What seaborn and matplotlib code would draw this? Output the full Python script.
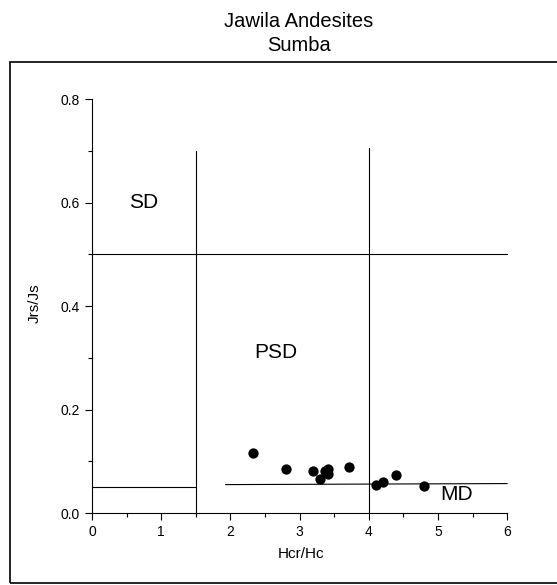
import matplotlib
matplotlib.use("Agg")
import matplotlib.pyplot as plt
import seaborn as sns
import pandas as pd
from matplotlib.patches import Rectangle
from matplotlib.ticker import MultipleLocator

# ---------------------------------------------------------------
# Data (Hcr/Hc vs Jrs/Js)
# ---------------------------------------------------------------
hcr_hc = [2.32, 2.81, 3.19, 3.30, 3.36, 3.41, 3.41, 3.71, 4.10, 4.20, 4.39, 4.80]
jrs_js = [0.117, 0.086, 0.081, 0.066, 0.081, 0.086, 0.075, 0.089, 0.054, 0.061, 0.074, 0.053]

# domain boundary segments: (x0, x1, y0, y1)
boundary_x0 = [1.5, 4.0, 0.0, 0.0, 1.93]
boundary_x1 = [1.5, 4.0, 6.0, 1.5, 6.0]
boundary_y0 = [0.0, 0.0, 0.5, 0.05, 0.055]
boundary_y1 = [0.70, 0.705, 0.5, 0.05, 0.057]

region_names = ["SD", "PSD", "MD"]
region_x = [0.75, 2.65, 5.26]
region_y = [0.60, 0.31, 0.035]

x_ticks = [0, 1, 2, 3, 4, 5, 6]
y_ticks = [0.0, 0.2, 0.4, 0.6, 0.8]

sns.set_style("ticks")
plt.rcParams["font.family"] = ["Liberation Sans", "DejaVu Sans"]
plt.rcParams["text.color"] = "black"
plt.rcParams["axes.labelcolor"] = "black"
plt.rcParams["xtick.color"] = "black"
plt.rcParams["ytick.color"] = "black"

df = pd.DataFrame({"Hcr/Hc": hcr_hc, "Jrs/Js": jrs_js})

fig = plt.figure(figsize=(5.57, 5.85), dpi=100)
ax = fig.add_axes([0.165, 0.123, 0.752, 0.716])

for x0, x1, y0, y1 in zip(boundary_x0, boundary_x1, boundary_y0, boundary_y1):
    ax.plot([x0, x1], [y0, y1], color="black", lw=0.8, clip_on=False)

sns.scatterplot(data=df, x="Hcr/Hc", y="Jrs/Js", color="black", s=55,
                edgecolor="black", linewidth=0, ax=ax, zorder=3, clip_on=False)

for name, tx, ty in zip(region_names, region_x, region_y):
    ax.text(tx, ty, name, fontsize=15, ha="center", va="center")

ax.set_xlim(0, 6.05)
ax.set_ylim(0, 0.81)
ax.set_xticks(x_ticks)
ax.set_xticklabels([str(t) for t in x_ticks])
ax.set_yticks(y_ticks)
ax.set_yticklabels([f"{t:.1f}" for t in y_ticks])
ax.xaxis.set_minor_locator(MultipleLocator(0.5))
ax.yaxis.set_minor_locator(MultipleLocator(0.1))
ax.tick_params(which="major", direction="out", length=5, width=0.8, labelsize=10)
ax.tick_params(which="minor", direction="out", length=3, width=0.8)

sns.despine(ax=ax)
ax.spines["bottom"].set_bounds(0, 6)
ax.spines["left"].set_bounds(0, 0.8)
for side in ["bottom", "left"]:
    ax.spines[side].set_linewidth(0.8)
    ax.spines[side].set_color("black")

ax.set_xlabel("Hcr/Hc", fontsize=11, labelpad=6)
ax.set_ylabel("Jrs/Js", fontsize=11, labelpad=14)

fig.text(0.537, 0.963, "Jawila Andesites", fontsize=14.5, ha="center", va="center")
fig.text(0.537, 0.922, "Sumba", fontsize=14.5, ha="center", va="center")

# outer frame around the plot (right edge runs off the page)
fig.patches.append(Rectangle((0.018, 0.004), 1.1, 0.89, transform=fig.transFigure,
                             fill=False, edgecolor="black", linewidth=1.2))

fig.savefig("out.png", dpi=100)
